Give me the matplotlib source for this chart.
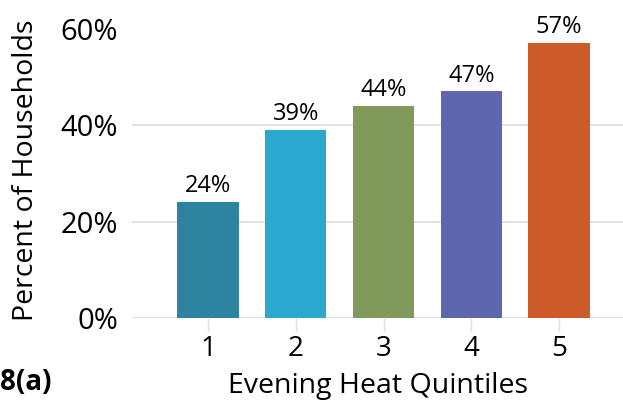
import numpy as np
import matplotlib
matplotlib.use('Agg')
import matplotlib.pyplot as plt

quintiles = ['1', '2', '3', '4', '5']
share = [24, 39, 44, 47, 57]
bar_colors = ['#2E83A0', '#2BA8D0', '#82995C', '#5E67AE', '#CD5B29']
y_ticks = [0, 20, 40, 60]

plt.rcParams['font.family'] = ['Open Sans', 'DejaVu Sans']

fig = plt.figure(figsize=(6.23, 4.04), dpi=100)
ax = fig.add_axes([0.212, 0.213, 0.788, 0.716])

x = np.arange(1, len(share) + 1)
ax.bar(x, share, width=0.7, color=bar_colors, zorder=2)
for xi, v in zip(x, share):
    ax.text(xi, v + 0.8, f'{v}%', ha='center', va='bottom', fontsize=17)

ax.set_xlim(0.136, 5.727)
ax.set_ylim(0, 60)
ax.set_yticks(y_ticks)
ax.set_yticklabels([f'{t}%' for t in y_ticks], fontsize=21)
ax.set_xticks(x)
ax.set_xticklabels(quintiles, fontsize=20)
ax.yaxis.grid(True, color='#DDDDDD', linewidth=1.2, zorder=0)
ax.yaxis.get_gridlines()[-1].set_visible(False)
ax.tick_params(axis='y', length=0, pad=10)
ax.tick_params(axis='x', length=9, width=1, color='#DDDDDD', pad=3)
for s in ax.spines.values():
    s.set_visible(False)

ax.set_ylabel('Percent of Households', fontsize=20.5)
ax.yaxis.set_label_coords(-0.188, 0.512)
ax.set_xlabel('Evening Heat Quintiles', fontsize=20.5, labelpad=7)
fig.text(0.0, 0.052, '8(a)', fontsize=20, fontweight='bold', ha='left', va='center')

fig.savefig('out.png', dpi=100)
